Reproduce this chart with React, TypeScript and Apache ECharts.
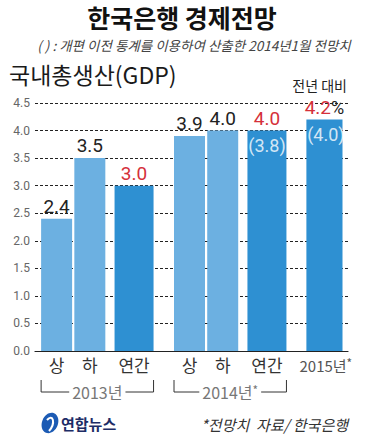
import React, { useEffect, useRef } from "react";
import * as echarts from "echarts";

// ---- data ----
const categories = ["상", "하", "연간", "상", "하", "연간", "2015년*"];
const periodKind = ["half", "half", "annual", "half", "half", "annual", "forecast"];
const groupOf = [0, 0, 0, 1, 1, 1, 2];
const yearGroups = ["2013년", "2014년*"];
const growth = [2.4, 3.5, 3.0, 3.9, 4.0, 4.0, 4.2];
const oldBasis: (number | null)[] = [null, null, null, null, null, 3.8, 4.0];
const yMin = 0;
const yMax = 4.5;
const yStep = 0.5;

const title = "한국은행 경제전망";
const subtitle = "( ) : 개편 이전 통계를 이용하여 산출한 2014년1월 전망치";
const chartTitle = "국내총생산(GDP)";
const unitNote = "전년 대비";
const footNote = "*전망치  자료/ 한국은행";
const logoText = "연합뉴스";

// ---- styles ----
const LIGHT = "#6cb0e1";
const DARK = "#2e90d2";
const RED = "#d5303a";
const KR = "'Noto Sans CJK KR', sans-serif";
const NUM = "'Liberation Sans Narrow', 'Roboto', sans-serif";

const GRID_TOP = 103;
const GRID_BOTTOM = 89;

// slot layout: one empty slot between year groups
const slotOf = categories.map((_, i) => i + groupOf[i]);
const nSlots = slotOf[slotOf.length - 1] + 1;
const slotLabels: string[] = Array(nSlots).fill("");
categories.forEach((c, i) => (slotLabels[slotOf[i]] = c));

const kindConf: Record<string, { axis: number; left: number; width: number; color: string }> = {
  half: { axis: 1, left: 40, width: 31, color: LIGHT },
  annual: { axis: 2, left: 51, width: 39, color: DARK },
  forecast: { axis: 3, left: 43.5, width: 39, color: DARK },
};
const kinds = ["half", "annual", "forecast"];

function dataFor(kind: string, src: (number | null)[]) {
  const arr: any[] = Array(nSlots).fill("-");
  categories.forEach((_, i) => {
    if (periodKind[i] === kind && src[i] != null) arr[slotOf[i]] = src[i];
  });
  return arr;
}

export default function App() {
  const ref = useRef<HTMLDivElement>(null);
  useEffect(() => {
    document.body.style.margin = "0";
    const chart = echarts.init(ref.current!, null, { renderer: "svg" });

    const grids: any[] = [{ left: 35, right: 17, top: GRID_TOP, bottom: GRID_BOTTOM }];
    const xAxes: any[] = [
      {
        type: "category",
        gridIndex: 0,
        data: slotLabels,
        axisLine: { lineStyle: { color: "#222", width: 1.2 } },
        axisTick: { show: false },
        axisLabel: { show: false },
      },
    ];
    const yAxes: any[] = [
      {
        type: "value",
        gridIndex: 0,
        min: yMin,
        max: yMax,
        interval: yStep,
        axisLine: { show: false },
        axisTick: { show: false },
        axisLabel: {
          formatter: (v: number) => v.toFixed(1),
          color: "#666",
          fontSize: 12,
          fontFamily: NUM,
          margin: 5,
        },
        splitLine: { lineStyle: { color: "#222", type: [3, 2], width: 1 } },
      },
    ];
    kinds.forEach((k) => {
      const c = kindConf[k];
      const gi = grids.length;
      grids.push({ left: c.left, width: 299, top: GRID_TOP, bottom: GRID_BOTTOM });
      xAxes.push({
        type: "category",
        gridIndex: gi,
        data: slotLabels,
        axisLine: { show: false },
        axisTick: { show: false },
        axisLabel: {
          interval: 0,
          margin: 5,
          formatter: (v: string, idx: number) => {
            const ci = slotOf.indexOf(idx);
            if (ci < 0 || periodKind[ci] !== k) return "";
            if (k === "forecast") return `{a|${v.replace("*", "")}}{s|*}`;
            return v;
          },
          color: "#333",
          fontSize: 17,
          fontFamily: KR,
          rich: {
            a: { color: "#555", fontSize: 15, fontFamily: KR },
            s: { color: "#555", fontSize: 12, fontFamily: KR, verticalAlign: "top", padding: [0, 0, 6, 0] },
          },
        },
      });
      yAxes.push({ type: "value", gridIndex: gi, min: yMin, max: yMax, interval: yStep, show: false });
    });

    const series: any[] = [];
    kinds.forEach((k) => {
      const c = kindConf[k];
      series.push({
        type: "bar",
        name: k,
        xAxisIndex: c.axis,
        yAxisIndex: c.axis,
        barWidth: c.width,
        itemStyle: { color: c.color },
        data: dataFor(k, growth),
        label: {
          show: true,
          position: "top",
          distance: 3,
          fontFamily: NUM,
          fontSize: 19,
          color: k === "half" ? "#222" : RED,
          formatter: (p: any) =>
            k === "forecast" ? `{r|${Number(p.value).toFixed(1)}}{p|%}` : Number(p.value).toFixed(1),
          rich: {
            r: { color: RED, fontFamily: NUM, fontSize: 19 },
            p: { color: "#222", fontFamily: NUM, fontSize: 18 },
          },
        },
      });
      if (k !== "half") {
        const inner = dataFor(k, oldBasis);
        series.push({
          type: "scatter",
          name: k + "-old",
          xAxisIndex: c.axis,
          yAxisIndex: c.axis,
          symbolSize: 0,
          z: 5,
          data: inner.map((v, s) => (v === "-" ? "-" : [s, dataFor(k, growth)[s], v])),
          label: {
            show: true,
            position: "bottom",
            distance: 6,
            color: "#fff",
            fontFamily: NUM,
            fontSize: 18,
            formatter: (p: any) => `(${Number(p.value[2]).toFixed(1)})`,
          },
        });
      }
    });

    chart.setOption({
      animation: false,
      backgroundColor: "#fff",
      grid: grids,
      xAxis: xAxes,
      yAxis: yAxes,
      series,
    });

    // year-group brackets positioned through the axes
    const brackets: any[] = [];
    yearGroups.forEach((name, g) => {
      const idxs = categories.map((_, i) => i).filter((i) => groupOf[i] === g);
      const first = idxs[0];
      const last = idxs[idxs.length - 1];
      const cf = kindConf[periodKind[first]];
      const cl = kindConf[periodKind[last]];
      const x0 = (chart.convertToPixel({ xAxisIndex: cf.axis }, slotOf[first]) as number) - cf.width / 2;
      const x1 = (chart.convertToPixel({ xAxisIndex: cl.axis }, slotOf[last]) as number) + cl.width / 2;
      const yTop = 380;
      const yBot = 392;
      brackets.push({
        type: "polyline",
        shape: { points: [[x0, yTop], [x0, yBot], [x1, yBot], [x1, yTop]] },
        style: { stroke: "#333", lineWidth: 1, fill: null },
      });
      const hasStar = name.endsWith("*");
      brackets.push({
        type: "text",
        x: (x0 + x1) / 2,
        y: yBot,
        style: {
          text: hasStar ? `{a|${name.slice(0, -1)}}{s|*}` : `{a|${name}}`,
          align: "center",
          verticalAlign: "middle",
          backgroundColor: "#fff",
          padding: [0, 3],
          rich: {
            a: { fill: "#777", fontSize: 16, fontFamily: KR },
            s: { fill: "#777", fontSize: 12, fontFamily: KR, verticalAlign: "top", padding: [0, 0, 6, 0] },
          },
        },
        z: 10,
      });
    });

    chart.setOption({
      graphic: [
        {
          type: "text",
          x: 182,
          y: 17,
          style: { text: title, align: "center", verticalAlign: "middle", fontSize: 25, fontWeight: "bold", fontFamily: KR, fill: "#111" },
        },
        {
          type: "text",
          x: 194,
          y: 45,
          style: { text: subtitle, align: "center", verticalAlign: "middle", fontSize: 13.5, fontStyle: "italic", fontFamily: KR, fill: "#444" },
        },
        {
          type: "text",
          x: 9,
          y: 74,
          style: { text: chartTitle, align: "left", verticalAlign: "middle", fontSize: 23, fontFamily: KR, fill: "#1a1a1a" },
        },
        {
          type: "text",
          x: 347,
          y: 85,
          style: { text: unitNote, align: "right", verticalAlign: "middle", fontSize: 14, fontFamily: KR, fill: "#222" },
        },
        ...brackets,
        {
          type: "group",
          x: 50,
          y: 423,
          children: [
            { type: "ellipse", rotation: -0.4, shape: { cx: 0, cy: 0, rx: 8, ry: 10.5 }, style: { fill: "#1c5bb4" } },
            {
              type: "bezierCurve",
              shape: { x1: -3, y1: -3, x2: -1, y2: 8, cpx1: 3, cpy1: -10, cpx2: 6, cpy2: 0 },
              style: { stroke: "#fff", lineWidth: 2, fill: null },
            },
          ],
        },
        {
          type: "text",
          x: 61,
          y: 423,
          style: { text: logoText, align: "left", verticalAlign: "middle", fontSize: 15, fontWeight: "bold", fontFamily: KR, fill: "#1d2c66" },
        },
        {
          type: "text",
          x: 348,
          y: 424,
          style: { text: footNote, align: "right", verticalAlign: "middle", fontSize: 15, fontStyle: "italic", fontFamily: KR, fill: "#333" },
        },
      ],
    });

    return () => chart.dispose();
  }, []);
  return <div ref={ref} style={{ width: 365, height: 440 }} />;
}
